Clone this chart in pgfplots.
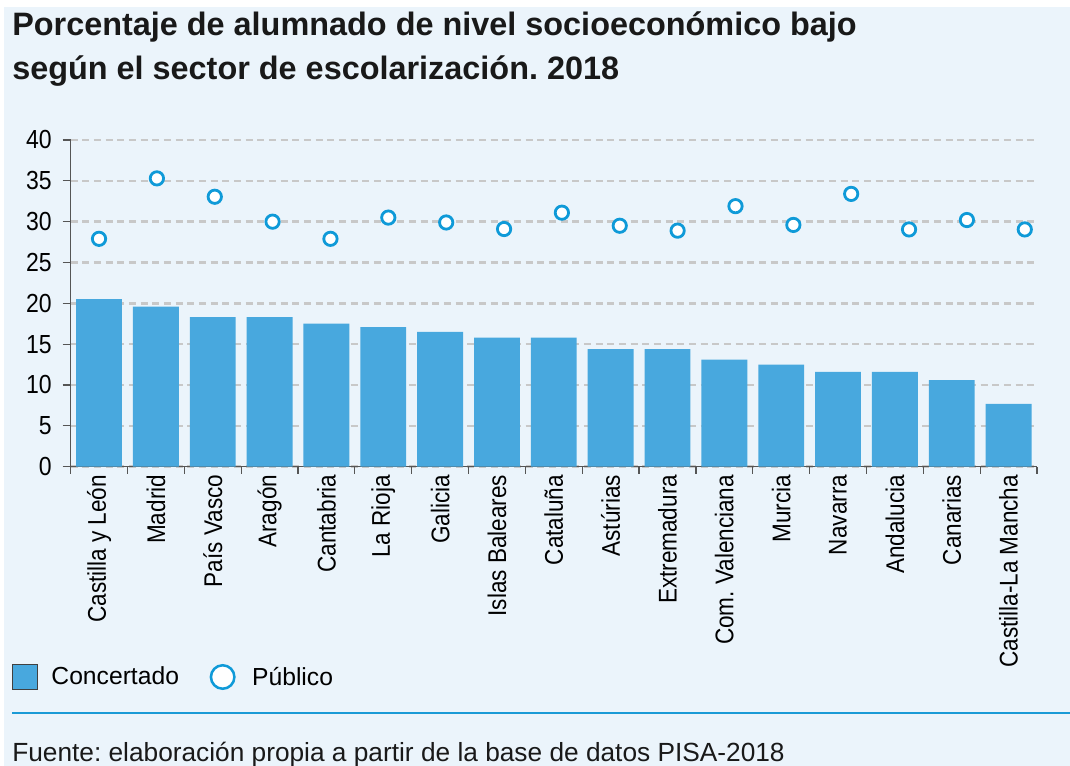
\documentclass[border=0pt]{standalone}
\usepackage{pgfplots}
\pgfplotsset{compat=1.18}
\usepackage{fontspec}
\setmainfont{Liberation Sans}
\newfontfamily\condfont[FakeStretch=0.88]{Liberation Sans}
\frenchspacing
\definecolor{bg}{HTML}{EBF4FB}
\definecolor{barc}{HTML}{48A8DE}
\definecolor{circ}{HTML}{0F9AD8}
\definecolor{gridc}{HTML}{C8C8C8}
\definecolor{axc}{HTML}{555555}
\definecolor{sepc}{HTML}{1A9AD6}
\begin{document}
\begin{tikzpicture}
\useasboundingbox (0,0) rectangle (802.5pt,574.5pt);
\fill[white] (0,0) rectangle (802.5pt,574.5pt);
\fill[bg] (3pt,0) rectangle (802.5pt,569.25pt);
\node[anchor=base west, inner sep=0pt, font=\fontsize{24.3}{24.3}\selectfont\bfseries, text=black!90] at (9pt,547.5pt) {Porcentaje de alumnado de nivel socioeconómico bajo};
\node[anchor=base west, inner sep=0pt, font=\fontsize{24.3}{24.3}\selectfont\bfseries, text=black!90] at (9pt,514.5pt) {según el sector de escolarización. 2018};
\begin{axis}[
  at={(52.95pt,224.5pt)}, anchor=south west,
  width=724.8pt, height=245pt, scale only axis,
  xmin=-0.5, xmax=16.5, ymin=0, ymax=40,
  axis lines=left, axis line style={-, draw=axc, line width=0.9pt},
  ytick={0,5,...,40},
  ymajorgrids, grid style={gridc, line width=1.8pt, dash pattern=on 5.25pt off 3.5pt},
  xtick={0,...,16},
  xticklabels={Castilla y León,Madrid,País Vasco,Aragón,Cantabria,La Rioja,Galicia,Islas Baleares,Cataluña,Astúrias,Extremadura,Com. Valenciana,Murcia,Navarra,Andalucia,Canarias,Castilla-La Mancha},
  minor xtick={-0.5,0.5,...,16.5},
  tick align=outside,
  major tick length=6pt, minor tick length=5.25pt,
  major x tick style={draw=none},
  minor x tick style={draw=axc, line width=0.9pt},
  y tick style={draw=axc, line width=0.9pt},
  xticklabel style={rotate=90, anchor=east, inner sep=0pt, font=\condfont\fontsize{19.2}{19.2}\selectfont},
  yticklabel style={anchor=east, inner sep=0pt, xshift=-8pt, font=\condfont\fontsize{19.6}{19.6}\selectfont},
  /pgf/number format/assume math mode=true,
  legend style={at={(axis description cs:-0.0606,-0.6439)}, anchor=west, draw=none, fill=none, inner sep=0pt, legend columns=2, font=\fontsize{18.5}{18.5}\selectfont, /tikz/every even column/.append style={column sep=21pt}},
]
\addplot[ybar, bar width=34.4pt, fill=barc, draw=none,
  legend image code/.code={\draw[fill=barc, draw=black!75, line width=0.75pt] (0pt,-9.4pt) rectangle (18.75pt,9.4pt); \path[draw=none,fill=none] (0pt,0pt) -- (27pt,0pt);}]
coordinates {(0,20.5) (1,19.6) (2,18.3) (3,18.3) (4,17.5) (5,17.1) (6,16.5) (7,15.8) (8,15.8) (9,14.4) (10,14.4) (11,13.1) (12,12.5) (13,11.6) (14,11.6) (15,10.6) (16,7.7)};
\addlegendentry{Concertado}
\addplot[only marks, mark=*, mark size=5pt, mark options={fill=white, draw=circ, line width=2.1pt},
  legend image code/.code={\draw[fill=white, draw=circ, line width=1.9pt] (9.4pt,0pt) circle (8.8pt); \path[draw=none,fill=none] (0pt,0pt) -- (29.5pt,0pt);}]
coordinates {(0,27.9) (1.018,35.3) (2.036,33.05) (3.053,30.0) (4.071,27.9) (5.089,30.5) (6.107,29.9) (7.125,29.1) (8.142,31.1) (9.160,29.5) (10.178,28.9) (11.196,31.9) (12.214,29.6) (13.231,33.4) (14.249,29.05) (15.267,30.2) (16.285,29.05)};
\addlegendentry{Público}
\end{axis}
\draw[sepc, line width=1.5pt] (9pt,39.75pt) -- (802.5pt,39.75pt);
\node[anchor=base west, inner sep=0pt, font=\fontsize{19.7}{19.7}\selectfont, text=black!90] at (9pt,3pt) {Fuente: elaboración propia a partir de la base de datos PISA-2018};
\end{tikzpicture}
\end{document}
